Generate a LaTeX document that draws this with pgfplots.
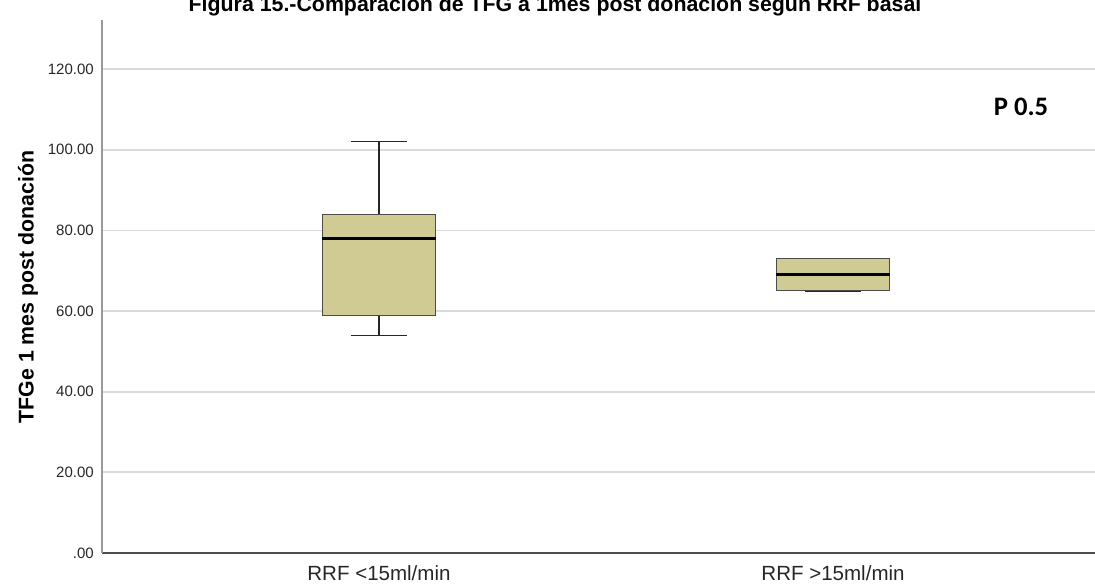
\documentclass[border=0pt]{standalone}
\usepackage{fontspec}
\setmainfont{Liberation Sans}
\newfontfamily\carlito{Carlito}
\usepackage{pgfplots}
\pgfplotsset{compat=1.18}
\definecolor{boxfill}{RGB}{208,203,147}
\definecolor{gridc}{RGB}{217,217,217}
\begin{document}
\begin{tikzpicture}
\useasboundingbox (-76.5pt,-24pt) rectangle (744.75pt,414.75pt);
\begin{axis}[
  at={(0,0)}, anchor=south west,
  scale only axis, width=744.75pt, height=399.75pt,
  xmin=0.39, xmax=2.577, ymin=0, ymax=132.2,
  axis lines=left, axis line style={-},
  x axis line style={draw=black!70, line width=1pt},
  y axis line style={draw=black!40, line width=1.1pt},
  xtick={1,2}, xticklabels={RRF <15ml/min, RRF >15ml/min},
  ytick={0,20,40,60,80,100,120},
  yticklabels={.00,20.00,40.00,60.00,80.00,100.00,120.00},
  major tick length=0pt,
  ymajorgrids, grid style={draw=gridc, line width=1.3pt},
  xticklabel style={anchor=north, inner sep=0pt, yshift=-9pt, text=black!85, font=\fontsize{15.4}{18}\selectfont},
  yticklabel style={anchor=east, inner sep=0pt, xshift=-6pt, text=black!85, font=\fontsize{11.25}{13}\selectfont},
  clip=false,
]
% Group 1: lower whisker 54, Q1 59, median 78, Q3 84, upper whisker 102
\addplot[draw=black!85, line width=1.1pt] coordinates {(1,54) (1,59)};
\addplot[draw=black!85, line width=1.1pt] coordinates {(1,84) (1,102)};
\addplot[draw=black!85, line width=1.1pt] coordinates {(0.9375,54) (1.0625,54)};
\addplot[draw=black!85, line width=1.1pt] coordinates {(0.9375,102) (1.0625,102)};
\addplot[draw=black!70, fill=boxfill, line width=0.8pt] coordinates {(0.875,59) (1.125,59) (1.125,84) (0.875,84)} -- cycle;
\addplot[draw=black, line width=2.3pt] coordinates {(0.875,78) (1.125,78)};
% Group 2: lower whisker 65, Q1 65, median 69, Q3 73, upper whisker 73
\addplot[draw=black!85, line width=1.1pt] coordinates {(1.9375,65) (2.0625,65)};
\addplot[draw=black!85, line width=1.1pt] coordinates {(1.9375,73) (2.0625,73)};
\addplot[draw=black!70, fill=boxfill, line width=0.8pt] coordinates {(1.875,65) (2.125,65) (2.125,73) (1.875,73)} -- cycle;
\addplot[draw=black, line width=2.3pt] coordinates {(1.875,69) (2.125,69)};
\node[anchor=base, font=\carlito\bfseries\fontsize{20}{24}\selectfont] at (axis cs:2.414,108.6) {P 0.5};
\end{axis}
\node[anchor=base, font=\bfseries\fontsize{16}{19}\selectfont] at (339.75pt,405.75pt) {Figura 15.-Comparación de TFG a 1mes post donación según RRF basal};
\node[rotate=90, anchor=center, font=\bfseries\fontsize{16}{19}\selectfont] at (-55.5pt,199.5pt) {TFGe 1 mes post donación};
\end{tikzpicture}
\end{document}
